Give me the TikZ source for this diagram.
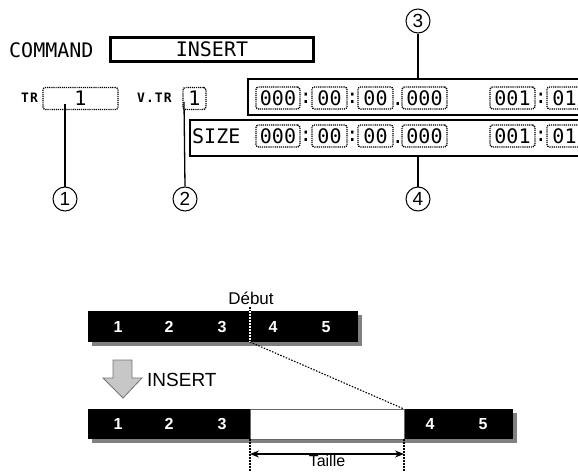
\documentclass[tikz,border=0pt]{standalone}
\usepackage{fontspec}
\usepackage{graphicx}
\newfontfamily\lcdfont{DejaVu Sans Mono}
\newfontfamily\lcdsmall[LetterSpace=8]{DejaVu Sans Mono Bold}
\newfontfamily\hvfont{Liberation Sans}
\usetikzlibrary{arrows.meta}
\tikzset{
  lcd/.style={font=\lcdfont\fontsize{20}{20}\selectfont, inner sep=0pt},
  lcdlab/.style={font=\lcdsmall\fontsize{13}{13}\selectfont, inner sep=0pt},
  dbox/.style={draw, dash pattern=on 1.2pt off 0.9pt, rounded corners=2.5pt, line width=1.3pt,
               minimum height=22pt, inner sep=0pt, lcd},
  panel/.style={draw, line width=1.2pt, inner sep=0pt, minimum height=36pt},
  callout/.style={draw, circle, line width=1pt, minimum size=24pt, inner sep=0pt,
                  font=\hvfont\fontsize{19}{19}\selectfont},
  lead/.style={line width=1.3pt},
  shadow/.style={fill=black!50},
  bnum/.style={text=white, font=\hvfont\bfseries\fontsize{16}{16}\selectfont, inner sep=0pt},
  lab/.style={font=\hvfont\fontsize{17}{17}\selectfont, inner sep=0pt},
  dotline/.style={dash pattern=on 1.5pt off 1.5pt, line width=1.1pt},
}
\begin{document}
\begin{tikzpicture}[x=1pt,y=-1pt]
\useasboundingbox (0,0) rectangle (578,471);

% ---------- top display ----------
\node[lcd, anchor=west] (cmd) at (9,50) {COMMAND};
\node[draw, line width=3pt, minimum width=203pt, minimum height=24pt, lcd] (cmdbox) at (212,49.5) {INSERT};

\node[lcdlab, anchor=west] (trlab) at (21,97.5) {TR};
\node[dbox, minimum width=75pt] (trbox) at (80.5,98.5) {1};
\node[lcdlab, anchor=west] (vtrlab) at (137,97.5) {V.TR};
\node[dbox, minimum width=23pt] (vtrbox) at (194.5,98.5) {1};

% panel 3
\node[panel, minimum width=342pt] (p3) at (419,97) {};
\node[dbox, minimum width=44pt] (a1) at (278,98) {000};
\node[lcd] (a2) at (306,98) {:};
\node[dbox, minimum width=35pt] (a3) at (329.5,98) {00};
\node[lcd] (a4) at (352.5,98) {:};
\node[dbox, minimum width=35pt] (a5) at (375.5,98) {00};
\node[lcd, anchor=base] (a6) at (398,105.5) {.};
\node[dbox, minimum width=45pt] (a7) at (424.5,98) {000};
\node[dbox, minimum width=45pt] (a8) at (512.5,98) {001};
\node[lcd] (a9) at (541,98) {:};
\node[dbox, minimum width=35pt] (a10) at (564.5,98) {01};

% size panel
\node[panel, minimum width=400pt] (sp) at (390,138) {};
\node[lcd, anchor=west] (size) at (192,136) {SIZE};
\node[dbox, minimum width=44pt] (b1) at (278,136) {000};
\node[lcd] (b2) at (306,136) {:};
\node[dbox, minimum width=35pt] (b3) at (329.5,136) {00};
\node[lcd] (b4) at (352.5,136) {:};
\node[dbox, minimum width=35pt] (b5) at (375.5,136) {00};
\node[lcd, anchor=base] (b6) at (398,143.5) {.};
\node[dbox, minimum width=45pt] (b7) at (424.5,136) {000};
\node[dbox, minimum width=45pt] (b8) at (512.5,136) {001};
\node[lcd] (b9) at (541,136) {:};
\node[dbox, minimum width=35pt] (b10) at (564.5,136) {01};

% callouts
\node[callout] (c1) at (65,199) {1};
\node[callout] (c2) at (185,199) {2};
\node[callout] (c3) at (418,21) {3};
\node[callout] (c4) at (418,199) {4};
\coordinate (t1) at (65,104);
\coordinate (t2) at (184,102);
\draw[lead] (c1.north) -- (t1);
\draw[lead] (c2.north) -- (t2);
\draw[lead] (c3.south) -- (c3.south |- p3.north);
\draw[lead] (c4.north) -- (c4.north |- sp.south);

% ---------- bottom diagram ----------
% top bar
\fill[shadow] (92,315) rectangle (362,346);
\fill[black] (88,311) rectangle (358,342);
\node[bnum] (n1) at (118,327) {1};
\node[bnum] (n2) at (169,327) {2};
\node[bnum] (n3) at (222,327) {3};
\node[bnum] (n4) at (273,327) {4};
\node[bnum] (n5) at (326,327) {5};

\node[lab, anchor=base] (debut) at (251,304) {Début};
\coordinate (cut) at (250,342);
\coordinate (cuttop) at (250,307);
\draw[dotline] (cuttop) -- (250,311);
\draw[dotline, white] (250,311) -- (cut);

% grey arrow
\draw[fill=black!22, draw=black!55, line width=0.8pt]
  (113,360) -- (132,360) -- (132,378) -- (142,378) -- (123,398) -- (103,378) -- (113,378) -- cycle;
\node[lab, anchor=west, font=\hvfont\fontsize{19}{19}\selectfont] (ins) at (147,380) {INSERT};

% bottom bar
\fill[shadow] (92,413) rectangle (517,443);
\fill[black] (88,409) rectangle (250,439);
\fill[black] (404,409) rectangle (513,439);
\draw[fill=white, draw=black!60, line width=1pt] (250,409) rectangle (404,439);
\coordinate (gl) at (250,439);
\coordinate (gr) at (404,439);
\coordinate (gtop) at (404,409);
\node[bnum] (m1) at (118,424) {1};
\node[bnum] (m2) at (169,424) {2};
\node[bnum] (m3) at (222,424) {3};
\node[bnum] (m4) at (430,424) {4};
\node[bnum] (m5) at (483,424) {5};

\draw[dotline] (cut) -- (gtop);
\draw[dotline] (gl) -- (250,476);
\draw[dotline] (gr) -- (404,476);
\coordinate (al) at (250,454);
\coordinate (ar) at (404,454);
\draw[line width=1.3pt, {Stealth[length=9pt,width=7pt]}-{Stealth[length=9pt,width=7pt]}] (al) -- (ar);
\node[lab, anchor=base, font=\hvfont\fontsize{16}{16}\selectfont] (taille) at (327,466) {Taille};
\end{tikzpicture}
\end{document}
